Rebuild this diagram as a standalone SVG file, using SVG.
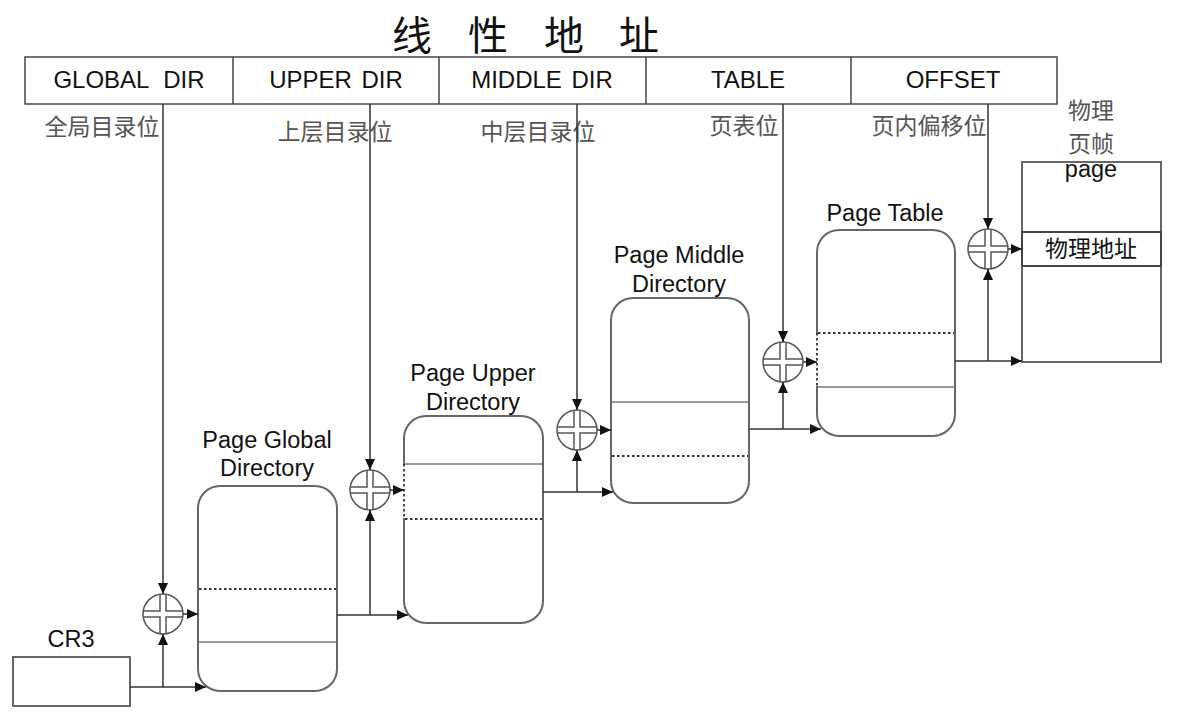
<svg xmlns="http://www.w3.org/2000/svg" xmlns:xlink="http://www.w3.org/1999/xlink" width="1185" height="716" viewBox="0 0 1185 716">
<style>
.bar{fill:#fff;stroke:#444;stroke-width:1.5}
.div{stroke:#444;stroke-width:1.5}
.box{fill:#fff;stroke:#666;stroke-width:2}
.sep{stroke:#777;stroke-width:1.5}
.dash{stroke:#333;stroke-width:1.8;stroke-dasharray:2.5 2.5}
.lbl{font-family:"Liberation Sans",Arial,sans-serif;font-size:24px;fill:#111;text-anchor:middle}
.nl{font-family:"Liberation Sans",Arial,sans-serif;font-size:23.5px;fill:#111;text-anchor:middle}
.cn{font-family:"Liberation Serif","Noto Sans CJK SC",serif;font-size:23px;fill:#555;text-anchor:middle}
.title{font-family:"Liberation Serif","Noto Sans CJK SC",serif;font-size:40px;fill:#111}
.wire{fill:none;stroke:#333;stroke-width:1.5}
.arr{marker-end:url(#ah)}
</style>
<defs>
<marker id="ah" markerUnits="userSpaceOnUse" markerWidth="11" markerHeight="10" refX="11" refY="5" orient="auto">
<path d="M0,0 L11,5 L0,10 z" fill="#111"/>
</marker>
<g id="adder">
<circle r="20" fill="#fff" stroke="#555" stroke-width="1.5"/>
<path d="M-19.8,-3 H-3 V-19.8 M3,-19.8 V-3 H19.8 M19.8,3 H3 V19.8 M-3,19.8 V3 H-19.8" fill="none" stroke="#555" stroke-width="1.5"/>
</g>
</defs>
<rect width="1185" height="716" fill="#fff"/>

<g id="title">
<text class="title" x="392 432 468 508 544 584 619" y="50">线 性 地 址</text>
</g>

<g id="linear-address">
<rect class="bar" x="25" y="57" width="1032" height="47"/>
<line class="div" x1="233" y1="57" x2="233" y2="104"/>
<line class="div" x1="439" y1="57" x2="439" y2="104"/>
<line class="div" x1="646" y1="57" x2="646" y2="104"/>
<line class="div" x1="851" y1="57" x2="851" y2="104"/>
<text class="lbl" x="129" y="88" word-spacing="8">GLOBAL DIR</text>
<text class="lbl" x="336" y="88" word-spacing="3">UPPER DIR</text>
<text class="lbl" x="542" y="88" word-spacing="3">MIDDLE DIR</text>
<text class="lbl" x="748" y="88">TABLE</text>
<text class="lbl" x="953" y="88">OFFSET</text>
</g>

<g id="bit-labels">
<text class="cn" x="102" y="135">全局目录位</text>
<text class="cn" x="335" y="140">上层目录位</text>
<text class="cn" x="538" y="140">中层目录位</text>
<text class="cn" x="744" y="134">页表位</text>
<text class="cn" x="929" y="134">页内偏移位</text>
</g>

<g id="cr3">
<rect class="box" x="13" y="657" width="117" height="49"/>
<text class="nl" x="71" y="647">CR3</text>
</g>

<g id="pgd">
<rect class="box" x="198" y="486" width="139" height="205" rx="22"/>
<line class="dash" x1="199" y1="589" x2="336" y2="589"/>
<line class="sep" x1="199" y1="642" x2="336" y2="642"/>
<text class="nl" x="267" y="448">Page Global</text>
<text class="nl" x="267" y="476">Directory</text>
</g>

<g id="pud">
<rect class="box" x="404" y="416" width="139" height="207" rx="22"/>
<line x1="404" y1="465" x2="404" y2="518" stroke="#fff" stroke-width="3"/>
<line class="dash" x1="404" y1="464" x2="404" y2="519"/>
<line class="sep" x1="405" y1="464" x2="542" y2="464"/>
<line class="dash" x1="405" y1="519" x2="542" y2="519"/>
<text class="nl" x="473" y="381">Page Upper</text>
<text class="nl" x="473" y="410">Directory</text>
</g>

<g id="pmd">
<rect class="box" x="611" y="298" width="138" height="205" rx="22"/>
<line class="sep" x1="612" y1="402" x2="748" y2="402"/>
<line class="dash" x1="612" y1="456" x2="748" y2="456"/>
<text class="nl" x="679" y="263">Page Middle</text>
<text class="nl" x="679" y="292">Directory</text>
</g>

<g id="pt">
<rect class="box" x="817" y="230" width="138" height="206" rx="22"/>
<line x1="817" y1="334" x2="817" y2="386" stroke="#fff" stroke-width="3"/>
<line class="dash" x1="817" y1="333" x2="817" y2="387"/>
<line class="dash" x1="818" y1="333" x2="954" y2="333"/>
<line class="sep" x1="818" y1="387" x2="954" y2="387"/>
<text class="nl" x="885" y="221">Page Table</text>
</g>

<g id="page">
<rect class="box" x="1022" y="162" width="139" height="200"/>
<rect x="1022" y="232" width="139" height="34" fill="#fff" stroke="#444" stroke-width="2"/>
<text class="cn" x="1091" y="257" style="fill:#111">物理地址</text>
<text class="cn" x="1091" y="119">物理</text>
<text class="cn" x="1091" y="152">页帧</text>
<text class="nl" x="1091" y="177">page</text>
</g>

<g id="adders">
<use xlink:href="#adder" x="163" y="614"/>
<use xlink:href="#adder" x="370" y="490"/>
<use xlink:href="#adder" x="577" y="430"/>
<use xlink:href="#adder" x="783" y="362"/>
<use xlink:href="#adder" x="988" y="249"/>
</g>

<g id="connectors">
<path class="wire arr" d="M163,104 V594"/>
<path class="wire arr" d="M370,104 V470"/>
<path class="wire arr" d="M577,104 V410"/>
<path class="wire arr" d="M783,104 V342"/>
<path class="wire arr" d="M988,104 V229"/>

<path class="wire arr" d="M183,614 H198"/>
<path class="wire arr" d="M390,490 H404"/>
<path class="wire arr" d="M597,430 H611"/>
<path class="wire arr" d="M803,362 H817"/>
<path class="wire arr" d="M1008,249 H1022"/>

<path class="wire arr" d="M130,687 H206"/>
<path class="wire arr" d="M163,687 V634"/>
<path class="wire arr" d="M337,615 H408"/>
<path class="wire arr" d="M370,615 V510"/>
<path class="wire arr" d="M543,492 H613"/>
<path class="wire arr" d="M577,492 V450"/>
<path class="wire arr" d="M749,429 H821"/>
<path class="wire arr" d="M783,429 V382"/>
<path class="wire arr" d="M955,361 H1022"/>
<path class="wire arr" d="M988,361 V269"/>
</g>
</svg>
